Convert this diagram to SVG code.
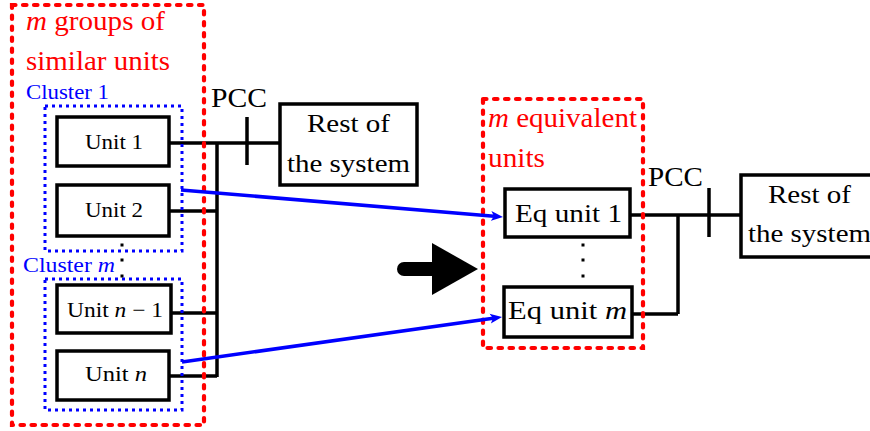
<svg xmlns="http://www.w3.org/2000/svg" width="870" height="431" viewBox="0 0 870 431">
<style>
.box{fill:#fff;stroke:#000;stroke-width:3.5}
.wire{fill:none;stroke:#000;stroke-width:3.5}
.red{fill:none;stroke:#ff0000;stroke-width:4.2;stroke-dasharray:3.5 7.5;stroke-linecap:round}
.blue{fill:none;stroke:#0000ff;stroke-width:3;stroke-dasharray:3 4}
.t{font-family:"Liberation Serif","Times New Roman",serif;fill:#000}
.rt{font-family:"Liberation Serif","Times New Roman",serif;fill:#ff0000;font-size:27px}
.bt{font-family:"Liberation Serif","Times New Roman",serif;fill:#0000ff;font-size:21px}
.arr{fill:none;stroke:#0000ff;stroke-width:3.5}
</style>
<defs>
<marker id="ah" markerUnits="userSpaceOnUse" markerWidth="14" markerHeight="12" refX="3" refY="0" viewBox="0 -6 14 12" orient="auto">
<path d="M0,-5 L12,0 L0,5 L3,0 Z" fill="#0000ff"/>
</marker>
</defs>
<rect width="870" height="431" fill="#fff"/>
<g id="connectors">
<path class="wire" d="M169,143 H280"/>
<path class="wire" d="M247,117 V165"/>
<path class="wire" d="M217,143 V377"/>
<path class="wire" d="M169,211 H217"/>
<path class="wire" d="M171,313 H217"/>
<path class="wire" d="M169,376 H217"/>
<path class="wire" d="M630,215 H741"/>
<path class="wire" d="M678,215 V314"/>
<path class="wire" d="M632,314 H678"/>
<path class="wire" d="M709,188 V237"/>
</g>
<g id="cluster1"><rect class="blue" x="45" y="106" width="137" height="145"/><text class="bt" x="26" y="99" textLength="83" lengthAdjust="spacingAndGlyphs">Cluster 1</text></g>
<g id="clusterm"><rect class="blue" x="45" y="279" width="137" height="131"/><text class="bt" x="23" y="272" textLength="92" lengthAdjust="spacingAndGlyphs">Cluster <tspan font-style="italic">m</tspan></text></g>
<g id="unit1"><rect class="box" x="57" y="117" width="112" height="49"/><text class="t" x="85" y="149" font-size="21" textLength="58" lengthAdjust="spacingAndGlyphs">Unit 1</text></g>
<g id="unit2"><rect class="box" x="57" y="185" width="112" height="51"/><text class="t" x="85" y="217" font-size="21" textLength="58" lengthAdjust="spacingAndGlyphs">Unit 2</text></g>
<g id="unitn1"><rect class="box" x="57" y="285" width="114" height="48"/><text class="t" x="67" y="317" font-size="21" textLength="96" lengthAdjust="spacingAndGlyphs">Unit <tspan font-style="italic">n</tspan> − 1</text></g>
<g id="unitn"><rect class="box" x="57" y="351" width="112" height="49"/><text class="t" x="85" y="381" font-size="21" textLength="62" lengthAdjust="spacingAndGlyphs">Unit <tspan font-style="italic">n</tspan></text></g>
<g id="dots-left" fill="#000"><rect x="120.5" y="243.5" width="3" height="3"/><rect x="120.5" y="258.5" width="3" height="3"/><rect x="120.5" y="274.5" width="3" height="3"/></g>
<g id="groups"><rect class="red" x="12" y="5" width="192" height="420"/>
<text class="rt" x="26" y="30" textLength="139" lengthAdjust="spacingAndGlyphs"><tspan font-style="italic">m</tspan> groups of</text>
<text class="rt" x="26" y="70" textLength="144" lengthAdjust="spacingAndGlyphs">similar units</text></g>
<g id="pcc1"><text class="t" x="211" y="107" font-size="27" textLength="56" lengthAdjust="spacingAndGlyphs">PCC</text></g>
<g id="rest1"><rect class="box" x="280" y="104" width="137" height="81"/>
<text class="t" x="307" y="132" font-size="26" textLength="83" lengthAdjust="spacingAndGlyphs">Rest of</text>
<text class="t" x="287" y="172" font-size="26" textLength="123" lengthAdjust="spacingAndGlyphs">the system</text></g>
<g id="bigarrow" fill="#000"><path d="M404,269 H434" stroke="#000" stroke-width="14" stroke-linecap="round"/><path d="M432,243 L478,269 L432,295 Z"/></g>
<g id="equnit1"><rect class="box" x="505" y="189" width="125" height="48"/><text class="t" x="515" y="222" font-size="26" textLength="107" lengthAdjust="spacingAndGlyphs">Eq unit 1</text></g>
<g id="equnitm"><rect class="box" x="504" y="287" width="128" height="50"/><text class="t" x="508" y="319" font-size="26" textLength="119" lengthAdjust="spacingAndGlyphs">Eq unit <tspan font-style="italic">m</tspan></text></g>
<g id="dots-right" fill="#000"><rect x="581.5" y="243.5" width="3" height="3"/><rect x="581.5" y="258.5" width="3" height="3"/><rect x="581.5" y="274.5" width="3" height="3"/></g>
<g id="equivalent"><rect class="red" x="483" y="99" width="160" height="249"/>
<text class="rt" x="488" y="127" textLength="149" lengthAdjust="spacingAndGlyphs"><tspan font-style="italic">m</tspan> equivalent</text>
<text class="rt" x="488" y="167" textLength="57" lengthAdjust="spacingAndGlyphs">units</text></g>
<g id="pcc2"><text class="t" x="648" y="186" font-size="27" textLength="55" lengthAdjust="spacingAndGlyphs">PCC</text></g>
<g id="rest2"><rect class="box" x="741" y="175" width="140" height="82"/>
<text class="t" x="768" y="203" font-size="26" textLength="83" lengthAdjust="spacingAndGlyphs">Rest of</text>
<text class="t" x="748" y="242" font-size="26" textLength="123" lengthAdjust="spacingAndGlyphs">the system</text></g>
<g id="mapping">
<path class="arr" d="M181,190 L494,216.25" marker-end="url(#ah)"/>
<path class="arr" d="M182,362 L493.1,318.25" marker-end="url(#ah)"/>
</g>
</svg>
